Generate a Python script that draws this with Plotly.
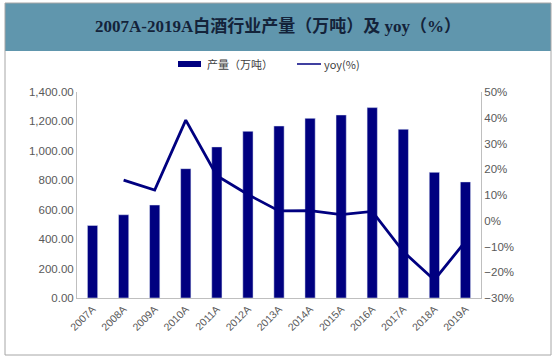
import plotly.graph_objects as go

years = ["2007A", "2008A", "2009A", "2010A", "2011A", "2012A", "2013A",
         "2014A", "2015A", "2016A", "2017A", "2018A", "2019A"]
output = [493, 566, 632, 879, 1027, 1133, 1169, 1221, 1244, 1294, 1147, 854, 789]
yoy = [None, 15.8, 11.9, 39.1, 17.5, 10.2, 3.8, 3.9, 2.4, 3.6, -12.0, -23.0, -8.0]

W, H = 560, 360
L, R, T, B = 77, 481, 92, 298


def px(x):
    return (x - L) / (R - L)


def py(y):
    return (B - y) / (B - T)


NAVY = "#000080"

fig = go.Figure()
fig.add_trace(go.Bar(x=years, y=output, name="产量（万吨）", marker_color=NAVY,
                     width=0.33, yaxis="y"))
fig.add_trace(go.Scatter(x=years, y=yoy, name="yoy(%)", mode="lines",
                         line=dict(color=NAVY, width=2.8), yaxis="y2"))

leg_font = dict(size=11, color="#404040", family="Noto Sans CJK SC, Liberation Sans")

fig.update_layout(
    width=W, height=H,
    margin=dict(l=L, r=W - R, t=T, b=H - B, autoexpand=False),
    paper_bgcolor="white", plot_bgcolor="white",
    font=dict(family="Liberation Sans, Arial, Noto Sans CJK SC", size=11.5, color="#595959"),
    showlegend=False,
    xaxis=dict(showline=True, linecolor="#bfbfbf", linewidth=1, tickangle=-45,
               tickfont=dict(size=10.5), ticks="", showgrid=False, automargin=False),
    yaxis=dict(range=[0, 1400], dtick=200, tickformat=",.2f", showline=True,
               linecolor="#bfbfbf", showgrid=False, zeroline=False, ticks="",
               automargin=False),
    yaxis2=dict(range=[-30, 50], dtick=10, ticksuffix="%", overlaying="y", side="right",
                showline=True, linecolor="#bfbfbf", showgrid=False, zeroline=False,
                ticks="", automargin=False),
    shapes=[
        dict(type="rect", xref="paper", yref="paper", x0=px(5), x1=px(551), y0=py(51), y1=py(3),
             fillcolor="#6096ad", line=dict(width=0), layer="below"),
        dict(type="rect", xref="paper", yref="paper", x0=px(5), x1=px(551), y0=py(355), y1=py(3),
             fillcolor="rgba(0,0,0,0)", line=dict(color="#a6a6a6", width=1)),
        dict(type="rect", xref="paper", yref="paper", x0=px(178), x1=px(201), y0=py(67), y1=py(61),
             fillcolor=NAVY, line=dict(width=0)),
        dict(type="line", xref="paper", yref="paper", x0=px(297), x1=px(321), y0=py(64), y1=py(64),
             line=dict(color=NAVY, width=1.5)),
    ],
    annotations=[
        dict(text="<b>2007A-2019A白酒行业产量（万吨）及 yoy（%）</b>", xref="paper", yref="paper",
             x=px(278), y=py(27), showarrow=False, xanchor="center", yanchor="middle",
             font=dict(family="Liberation Serif, Noto Sans CJK SC", size=17, color="#14233a")),
        dict(text="产量（万吨）", xref="paper", yref="paper", x=px(205), y=py(64),
             showarrow=False, xanchor="left", yanchor="middle", font=leg_font),
        dict(text="yoy(%)", xref="paper", yref="paper", x=px(322), y=py(64),
             showarrow=False, xanchor="left", yanchor="middle", font=leg_font),
    ],
)

fig.write_html("out.html", config={"displayModeBar": False},
               post_script="document.body.style.margin='0';document.body.style.overflow='hidden';")
